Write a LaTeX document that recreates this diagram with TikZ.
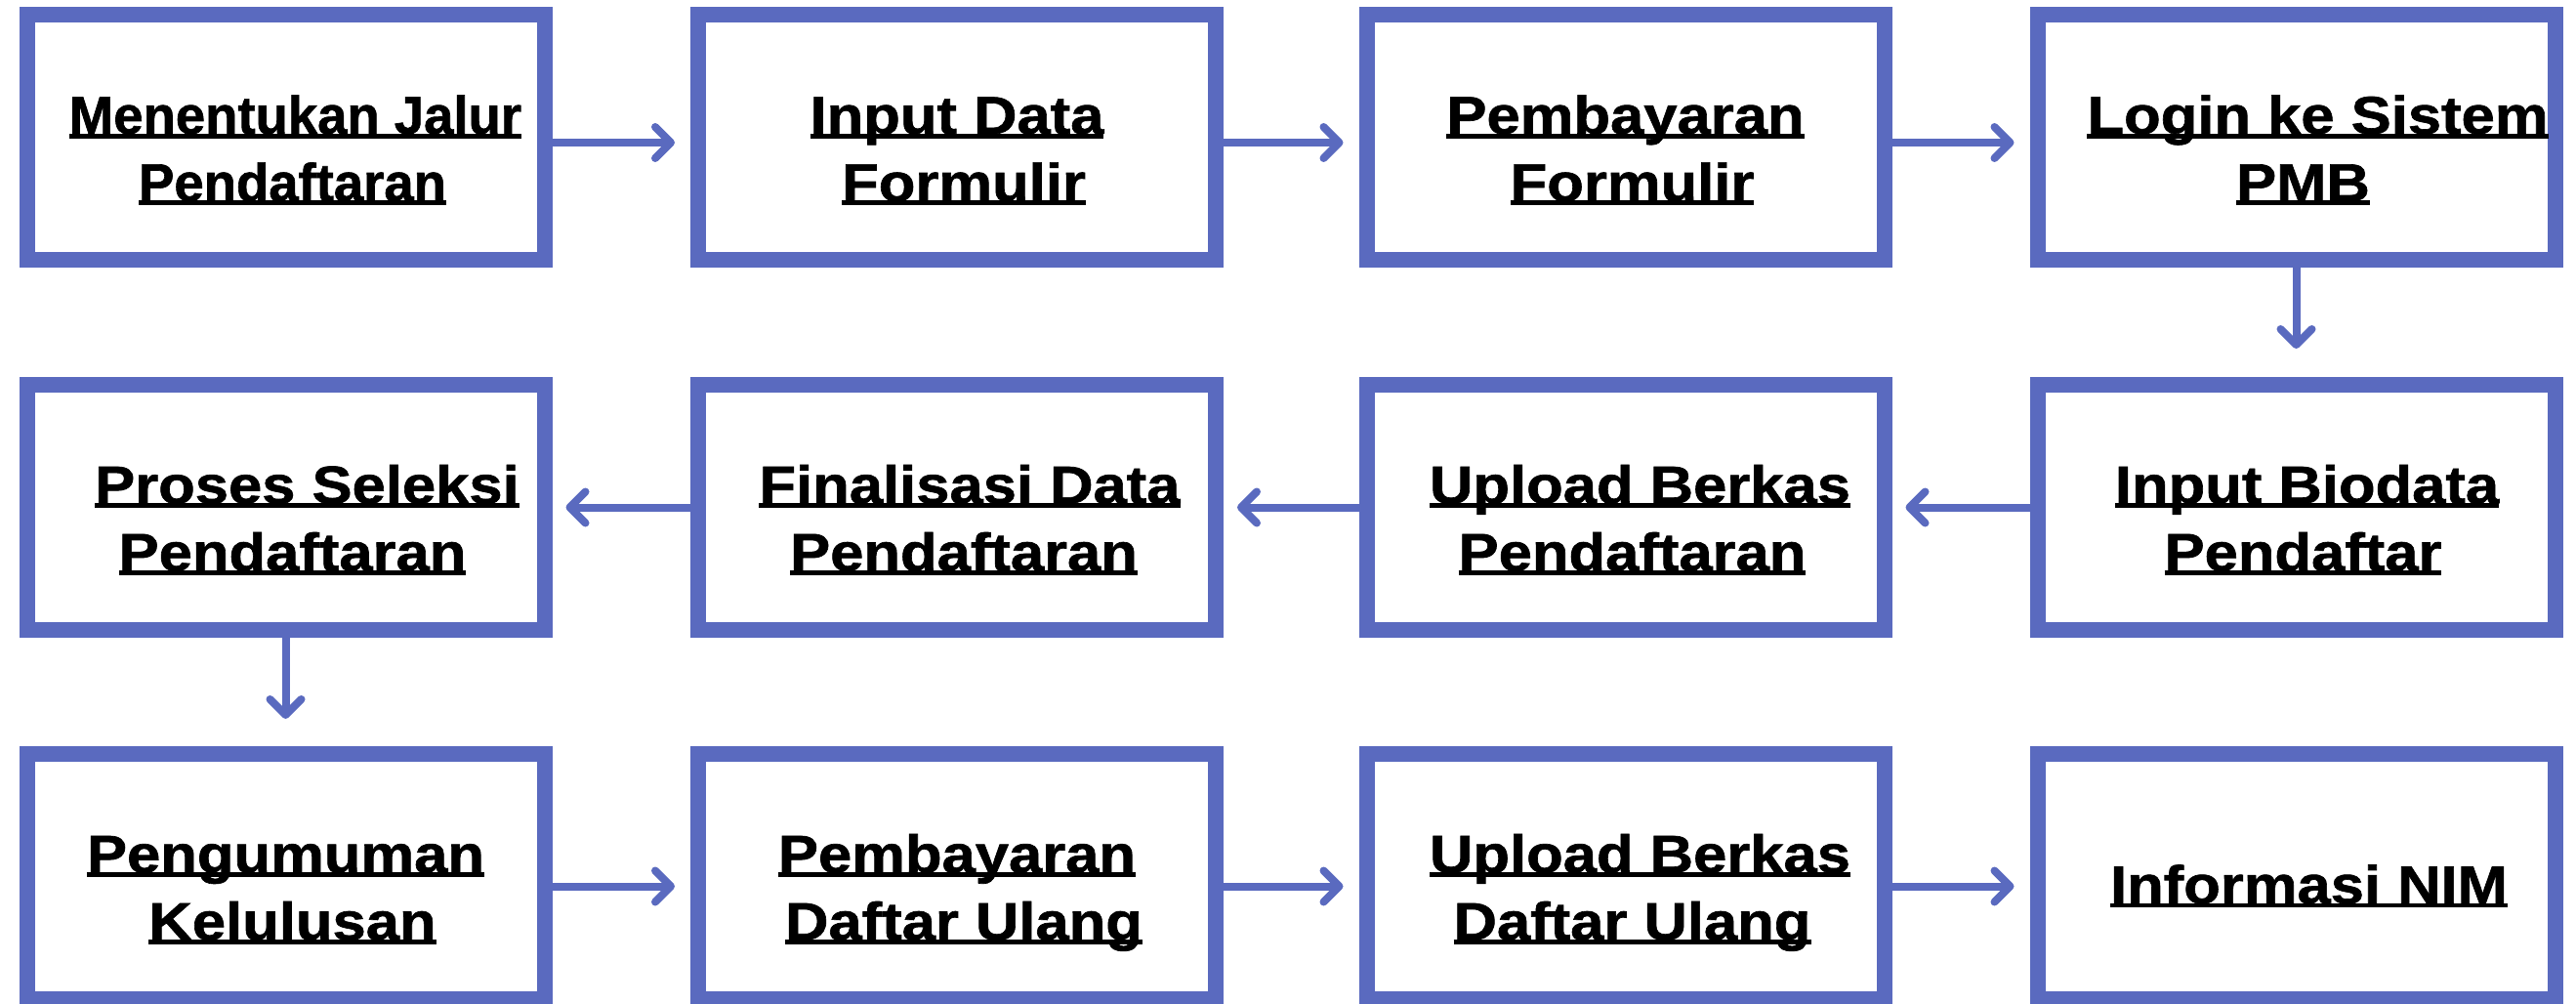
\documentclass[tikz,border=0pt]{standalone}
\usepackage{fontspec}
\usetikzlibrary{arrows.meta}
\newfontfamily\boxfont[FakeBold=1.2,FakeStretch=1.13]{Liberation Sans}
\newfontfamily\narrowfont[FakeBold=1.2]{Liberation Sans}
\definecolor{pmbblue}{RGB}{90,106,191}
\newsavebox\ulbox
\newcommand{\boxul}[1]{\sbox\ulbox{#1}\rlap{\rule[-1.3pt]{\wd\ulbox}{1.4pt}}\usebox\ulbox}
% two lines / one line, struts keep baselines the same in every box
\newcommand{\steptwo}[3][0cm]{\hspace*{#1}\rule{0pt}{21.3pt}\boxul{#2}\\\hspace*{0.14cm}\boxul{#3}\rule[-4pt]{0pt}{4pt}}
\newcommand{\stepone}[2][0cm]{\hspace*{#1}\rule{0pt}{19.6pt}\boxul{#2}\rule[-4pt]{0pt}{4pt}}
\tikzset{
  stepbox/.style={draw=pmbblue,line width=0.16cm,minimum width=5.30cm,minimum height=2.51cm,
    align=center,inner sep=0pt,font=\boxfont\bfseries\fontsize{15.5}{19.6}\selectfont},
  narrow/.style={font=\narrowfont\bfseries\fontsize{15.5}{19.6}\selectfont},
  flow/.style={pmbblue,line width=0.08cm,-{Straight Barb[round,length=1.6mm,width=3.2mm]}},
}
\begin{document}
\begin{tikzpicture}
\useasboundingbox (0,0) rectangle (26.38,10.27);
% row 1
\node[stepbox,narrow] (jalur) at (2.925,8.86) {\steptwo[0.2cm]{Menentukan Jalur}{Pendaftaran}};
\node[stepbox] (formulir) at (9.80,8.86) {\steptwo{Input Data}{Formulir}};
\node[stepbox] (bayarform) at (16.645,8.86) {\steptwo{Pembayaran}{Formulir}};
\node[stepbox] (login) at (23.515,8.86) {\steptwo[0.44cm]{Login ke Sistem}{PMB}};
% row 2 (right to left)
\node[stepbox] (biodata) at (23.515,5.075) {\steptwo[0.22cm]{Input Biodata}{Pendaftar}};
\node[stepbox] (berkas) at (16.645,5.075) {\steptwo[0.3cm]{Upload Berkas}{Pendaftaran}};
\node[stepbox] (final) at (9.80,5.075) {\steptwo[0.26cm]{Finalisasi Data}{Pendaftaran}};
\node[stepbox] (seleksi) at (2.925,5.075) {\steptwo[0.44cm]{Proses Seleksi}{Pendaftaran}};
% row 3
\node[stepbox] (umum) at (2.925,1.295) {\steptwo{Pengumuman}{Kelulusan}};
\node[stepbox] (daftarulang) at (9.80,1.295) {\steptwo{Pembayaran}{Daftar Ulang}};
\node[stepbox] (berkasulang) at (16.645,1.295) {\steptwo[0.3cm]{Upload Berkas}{Daftar Ulang}};
\node[stepbox] (nim) at (23.515,1.295) {\stepone[0.26cm]{Informasi NIM}};
% connectors
\draw[flow,shorten >=0.16cm] ([yshift=-0.05cm]jalur.east) -- ([yshift=-0.05cm]formulir.west);
\draw[flow,shorten >=0.16cm] ([yshift=-0.05cm]formulir.east) -- ([yshift=-0.05cm]bayarform.west);
\draw[flow,shorten >=0.16cm] ([yshift=-0.05cm]bayarform.east) -- ([yshift=-0.05cm]login.west);
\draw[flow,shorten >=0.29cm] (login.south) -- (biodata.north);
\draw[flow,shorten >=0.14cm] (biodata.west) -- (berkas.east);
\draw[flow,shorten >=0.14cm] (berkas.west) -- (final.east);
\draw[flow,shorten >=0.14cm] (final.west) -- (seleksi.east);
\draw[flow,shorten >=0.28cm] (seleksi.south) -- (umum.north);
\draw[flow,shorten >=0.16cm] ([yshift=-0.1cm]umum.east) -- ([yshift=-0.1cm]daftarulang.west);
\draw[flow,shorten >=0.16cm] ([yshift=-0.1cm]daftarulang.east) -- ([yshift=-0.1cm]berkasulang.west);
\draw[flow,shorten >=0.16cm] ([yshift=-0.1cm]berkasulang.east) -- ([yshift=-0.1cm]nim.west);
\end{tikzpicture}
\end{document}
